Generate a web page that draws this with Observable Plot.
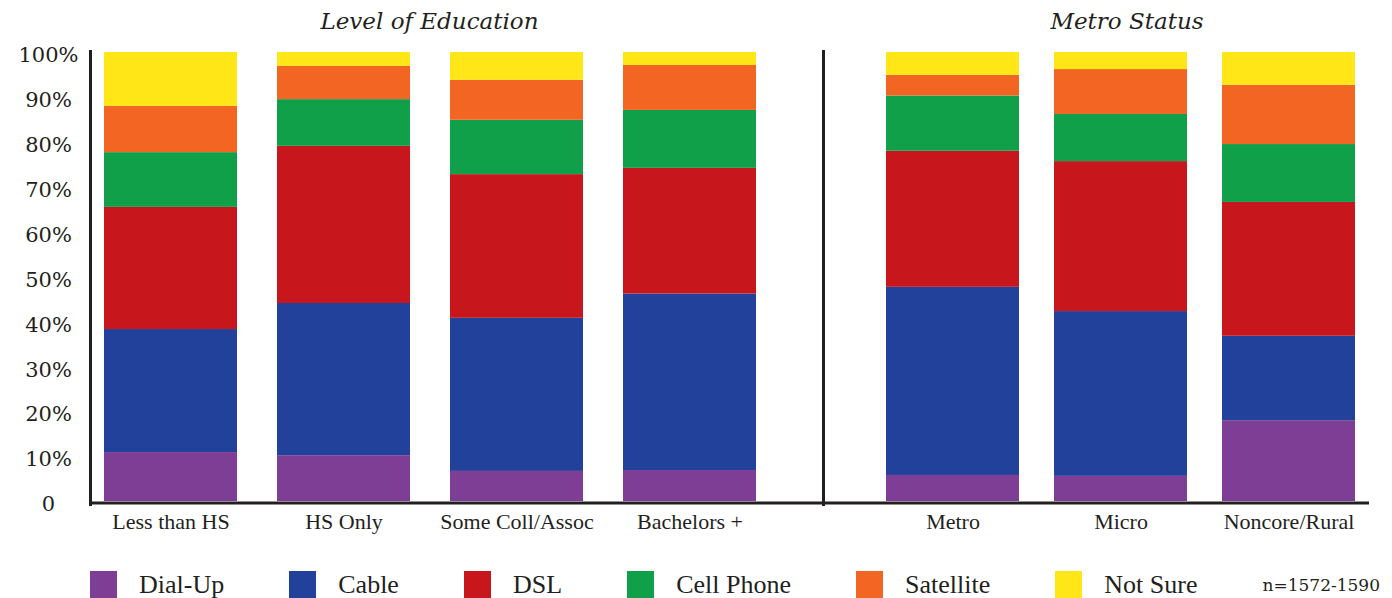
<!DOCTYPE html>
<html>
<head>
<meta charset="utf-8">
<script src="https://cdn.jsdelivr.net/npm/d3@7"></script>
<script src="https://cdn.jsdelivr.net/npm/@observablehq/plot@0.6"></script>
<style>
  body { margin: 0; background: #fff; }
  #chart { position: relative; width: 1392px; height: 598px; overflow: hidden; background: #fff; color: #231f20; }
  .title { position: absolute; top: 7px; font-family: "DejaVu Serif", serif; font-style: italic; font-size: 23px; line-height: 28px; text-align: center; }
  .panel { position: absolute; top: 40px; }
  .panel svg { overflow: visible; }
  .xlab text { font-family: "Liberation Serif", "Times New Roman", Tinos, "DejaVu Serif", serif !important; font-size: 22px !important; }
  .ylab text { font-family: "DejaVu Serif", serif !important; font-size: 21px !important; }
  #legend { position: absolute; left: 90px; top: 571px; width: 1290px; height: 27px; display: flex; justify-content: space-between; align-items: center; }
  .item { display: flex; align-items: center; }
  .swatch { width: 27px; height: 27px; margin-right: 22px; }
  .label { font-family: "Liberation Serif", "Times New Roman", Tinos, "DejaVu Serif", serif; font-size: 26px; line-height: 27px; }
  .note { font-family: "DejaVu Serif", serif; font-size: 17px; }
</style>
</head>
<body>
<div id="chart"></div>
<script>
// Internet connection type, share of respondents (%)
const series = ["Dial-Up", "Cable", "DSL", "Cell Phone", "Satellite", "Not Sure"];
const colors = ["#7f3e96", "#22419a", "#c8161d", "#10a04a", "#f26522", "#ffe617"];

const educationGroups = ["Less than HS", "HS Only", "Some Coll/Assoc", "Bachelors +"];
const metroGroups = ["Metro", "Micro", "Noncore/Rural"];

// values per group: four education levels, then three metro categories
const dialUp    = [10.9, 10.2,  6.7,  6.9,  5.8,  5.6, 18.0];
const cable     = [27.4, 33.9, 34.1, 39.3, 41.9, 36.7, 18.8];
const dsl       = [27.2, 35.0, 32.0, 28.0, 30.3, 33.4, 29.8];
const cellPhone = [12.2, 10.4, 12.1, 12.9, 12.3, 10.5, 12.9];
const satellite = [10.3,  7.4,  8.9, 10.0,  4.6, 10.0, 13.2];
const notSure   = [12.0,  3.1,  6.2,  2.9,  5.1,  3.8,  7.3];

const yTicks = [0, 10, 20, 30, 40, 50, 60, 70, 80, 90, 100];
const panelTitles = ["Level of Education", "Metro Status"];
const sampleNote = "n=1572-1590";

const seriesValues = [dialUp, cable, dsl, cellPhone, satellite, notSure];
const ink = "#231f20";

function rowsFor(groups, offset) {
  const rows = [];
  groups.forEach((g, i) => {
    series.forEach((s, j) => rows.push({ group: g, series: s, value: seriesValues[j][offset + i] }));
  });
  return rows;
}

const common = {
  height: 505,
  marginTop: 12,
  marginBottom: 44,
  y: { domain: [0, 100], label: null },
  color: { domain: series, range: colors }
};

const xAxisText = { tickSize: 0, tickPadding: 12, fill: ink, label: null, className: "xlab" };

const left = Plot.plot({
  ...common,
  width: 820,
  marginLeft: 90,
  marginRight: 0,
  x: { domain: educationGroups, range: [103, 756], paddingInner: 0.2327, paddingOuter: 0, label: null },
  marks: [
    Plot.barY(rowsFor(educationGroups, 0), { x: "group", y: "value", fill: "series", order: series }),
    Plot.ruleY([0], { stroke: ink, strokeWidth: 3, dy: 1.5 }),
    Plot.frame({ anchor: "left", stroke: ink, strokeWidth: 3, insetTop: -1, insetBottom: -3 }),
    Plot.axisX(xAxisText),
    Plot.axisY({
      ticks: yTicks, tickSize: 0, tickPadding: 42, textAnchor: "middle", dy: 3,
      tickFormat: d => d === 0 ? "0" : `${d}%`,
      fill: ink, label: null, className: "ylab"
    })
  ]
});

const right = Plot.plot({
  ...common,
  width: 572,
  marginLeft: 3,
  marginRight: 23,
  x: { domain: metroGroups, range: [65, 537], paddingInner: 0.207, paddingOuter: 0, label: null },
  y: { domain: [0, 100], label: null, axis: null },
  marks: [
    Plot.barY(rowsFor(metroGroups, educationGroups.length), { x: "group", y: "value", fill: "series", order: series }),
    Plot.ruleY([0], { stroke: ink, strokeWidth: 3, dy: 1.5, insetLeft: -3 }),
    Plot.frame({ anchor: "left", stroke: ink, strokeWidth: 3, insetTop: -1, insetBottom: -3 }),
    Plot.axisX(xAxisText)
  ]
});

const chart = document.getElementById("chart");

const t1 = document.createElement("div");
t1.className = "title";
t1.style.left = "103px"; t1.style.width = "653px";
t1.textContent = panelTitles[0];
const t2 = document.createElement("div");
t2.className = "title";
t2.style.left = "891px"; t2.style.width = "472px";
t2.textContent = panelTitles[1];

const p1 = document.createElement("div");
p1.className = "panel"; p1.style.left = "0px"; p1.appendChild(left);
const p2 = document.createElement("div");
p2.className = "panel"; p2.style.left = "820px"; p2.appendChild(right);

const legend = document.createElement("div");
legend.id = "legend";
series.forEach((s, i) => {
  const item = document.createElement("div");
  item.className = "item";
  const sw = document.createElement("div");
  sw.className = "swatch";
  sw.style.background = colors[i];
  const lb = document.createElement("span");
  lb.className = "label";
  lb.textContent = s;
  item.append(sw, lb);
  legend.appendChild(item);
});
const note = document.createElement("span");
note.className = "note";
note.textContent = sampleNote;
legend.appendChild(note);

chart.append(t1, t2, p1, p2, legend);
</script>
</body>
</html>
